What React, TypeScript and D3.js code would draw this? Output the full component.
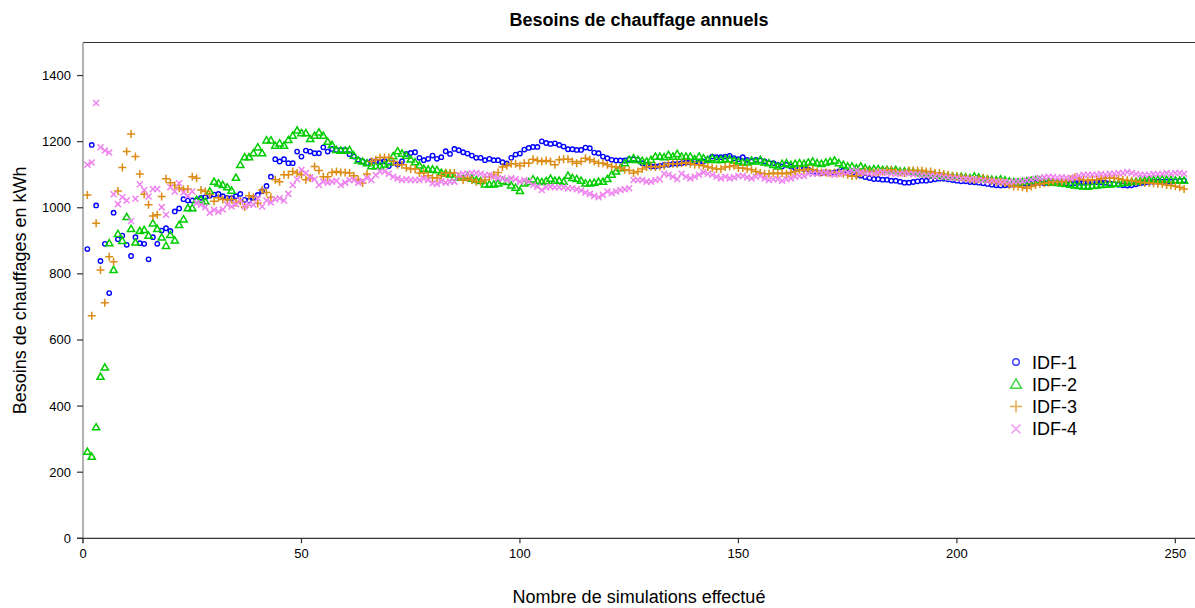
import * as d3 from "d3";

const W = 1195;
const H = 608;
const margin = { top: 42.5, right: 0, bottom: 69.7, left: 83 };

const seriesNames = ["IDF-1", "IDF-2", "IDF-3", "IDF-4"];
const colors = ["#0000ff", "#00cd00", "#dc8c14", "#ee82ee"];
const yTicks = [0, 200, 400, 600, 800, 1000, 1200, 1400];
const xTicks = [0, 50, 100, 150, 200, 250];

// besoins annuels (kWh) pour chaque simulation
const idf1 = [
  875, 1190, 1007, 839, 891, 742, 985, 905, 916, 888, 854, 911, 893, 891, 844, 911, 891, 931, 938, 930, 989, 998, 1026, 1022, 1022,
  1022, 1030, 1032, 1036, 1040, 1042, 1035, 1030, 1029, 1035, 1042, 1024, 1022, 1030, 1039, 1050, 1066, 1094, 1147, 1140,
  1147, 1135, 1135, 1170, 1155, 1173, 1170, 1165, 1165, 1183, 1170, 1178, 1175, 1175, 1175, 1162, 1155, 1145, 1140, 1135,
  1141, 1141, 1138, 1141, 1126, 1136, 1131, 1141, 1163, 1166, 1168, 1151, 1144, 1148, 1158, 1148, 1153, 1171, 1163, 1178,
  1174, 1168, 1164, 1158, 1151, 1151, 1144, 1148, 1144, 1144, 1138, 1134, 1151, 1161, 1164, 1176, 1181, 1184, 1184, 1201, 1196, 1193,
  1195, 1190, 1185, 1177, 1177, 1175, 1175, 1182, 1180, 1167, 1165, 1155, 1150, 1145, 1143, 1143, 1143, 1147, 1147,
  1145, 1135, 1130, 1125, 1125, 1127, 1130, 1130, 1133, 1133, 1135, 1137, 1137, 1140, 1137, 1140, 1147, 1155, 1153, 1153, 1155,
  1157, 1150, 1147, 1153, 1145, 1140, 1145, 1143, 1140, 1135, 1135, 1130, 1125, 1130, 1125, 1120, 1120, 1117, 1115,
  1110, 1107, 1105, 1107, 1105, 1107, 1110, 1113, 1107, 1103, 1100, 1097, 1093, 1090, 1087, 1087, 1085, 1085, 1082, 1082, 1079, 1076,
  1076, 1078, 1080, 1082, 1082, 1084, 1086, 1088, 1088, 1086, 1084, 1082, 1080, 1080, 1078, 1077, 1076, 1074, 1072, 1070,
  1068, 1067, 1068, 1069, 1070, 1072, 1073, 1072, 1074, 1075, 1076, 1074, 1075, 1076, 1077,
  1075, 1074, 1074, 1075, 1076, 1076, 1077, 1078, 1078, 1077, 1076, 1074, 1072, 1070, 1068, 1067, 1068, 1071, 1074, 1076,
  1078, 1079, 1079, 1078, 1079, 1079, 1080, 1081, 1083,
];

const idf2 = [
  262, 247, 336, 489, 517, 893, 812, 921, 900, 972, 936, 895, 930, 933, 916, 953, 936, 910, 885, 918, 901, 948, 965, 999, 999,
  1024, 1024, 1019, 1050, 1079, 1074, 1069, 1062, 1052, 1091, 1130, 1153, 1153, 1165, 1183, 1165, 1204, 1204, 1188, 1195,
  1188, 1205, 1218, 1234, 1226, 1226, 1208, 1218, 1228, 1218, 1200, 1190, 1175, 1173, 1173, 1175, 1158, 1143, 1140, 1135,
  1126, 1126, 1126, 1131, 1138, 1156, 1171, 1164, 1158, 1146, 1138, 1128, 1118, 1116, 1116, 1114, 1106, 1104, 1101, 1091,
  1091, 1091, 1096, 1088, 1084, 1081, 1071, 1071, 1071, 1074, 1081, 1078, 1068, 1061, 1051, 1074, 1078, 1086, 1081, 1078, 1081, 1088,
  1082, 1082, 1079, 1097, 1090, 1087, 1082, 1074, 1074, 1076, 1079, 1079, 1087, 1100, 1110, 1120, 1135, 1145, 1150,
  1145, 1142, 1140, 1145, 1155, 1155, 1153, 1160, 1155, 1163, 1155, 1155, 1155, 1147, 1155, 1150, 1145, 1150, 1145, 1145, 1147,
  1147, 1143, 1140, 1137, 1137, 1143, 1140, 1145, 1137, 1135, 1130, 1125, 1133, 1135, 1130, 1133, 1135, 1133, 1137,
  1140, 1135, 1133, 1137, 1140, 1143, 1135, 1130, 1125, 1125, 1120, 1125, 1120, 1115, 1117, 1117, 1115, 1115, 1113, 1115, 1110, 1110,
  1110, 1108, 1106, 1104, 1102, 1100, 1099, 1097, 1096, 1095, 1094, 1093, 1094, 1092, 1090, 1095, 1092, 1088, 1086, 1085,
  1084, 1086, 1083, 1080, 1078, 1077, 1078, 1080, 1082, 1084, 1083, 1080, 1078, 1076, 1075,
  1074, 1072, 1070, 1068, 1066, 1065, 1064, 1066, 1068, 1069, 1070, 1071, 1072, 1073, 1075, 1076, 1078, 1079, 1081, 1082,
  1084, 1084, 1085, 1086, 1085, 1084, 1083, 1083, 1082,
];

const idf3 = [
  1039, 673, 953, 812, 713, 852, 837, 1051, 1122, 1170, 1223, 1155, 1102, 1041, 1009, 975, 979, 1034, 1088, 1076, 1067, 1060, 1055, 1057, 1094,
  1089, 1054, 1049, 1040, 1020, 1030, 1025, 1025, 1025, 1015, 1020, 1002, 1036, 1032, 1014, 1054, 1046, 1032, 1085, 1079,
  1100, 1100, 1110, 1105, 1100, 1085, 1090, 1125, 1113, 1094, 1094, 1107, 1110, 1107, 1107, 1105, 1097, 1085, 1075, 1102,
  1140, 1145, 1152, 1152, 1152, 1140, 1130, 1130, 1120, 1117, 1117, 1105, 1105, 1097, 1090, 1090, 1097, 1105, 1105, 1105,
  1094, 1084, 1090, 1084, 1079, 1079, 1084, 1094, 1100, 1107, 1123, 1127, 1133, 1133, 1127, 1135, 1135, 1147, 1143, 1140, 1143, 1140,
  1130, 1145, 1147, 1147, 1140, 1135, 1140, 1150, 1145, 1140, 1135, 1135, 1130, 1125, 1123, 1120, 1115, 1113, 1105,
  1110, 1117, 1123, 1125, 1123, 1125, 1127, 1133, 1133, 1133, 1135, 1137, 1133, 1130, 1130, 1127, 1123, 1120, 1117, 1117, 1123,
  1125, 1127, 1120, 1120, 1117, 1115, 1110, 1105, 1103, 1103, 1105, 1103, 1105, 1103, 1107, 1110, 1115, 1113, 1117,
  1115, 1110, 1107, 1107, 1105, 1107, 1105, 1103, 1100, 1095, 1097, 1105, 1110, 1110, 1107, 1107, 1110, 1113, 1115, 1110, 1107, 1105,
  1113, 1113, 1113, 1113, 1110, 1110, 1105, 1105, 1102, 1100, 1097, 1095, 1093, 1090, 1087, 1084, 1087, 1090, 1087, 1082,
  1079, 1079, 1076, 1069, 1064, 1064, 1062, 1059, 1064, 1069, 1072, 1074, 1076, 1079, 1079,
  1079, 1082, 1087, 1092, 1088, 1084, 1082, 1085, 1085, 1088, 1090, 1089, 1090, 1088, 1085, 1083, 1082, 1080, 1077, 1076,
  1075, 1074, 1073, 1072, 1069, 1067, 1065, 1062, 1057,
];

const idf4 = [
  1130, 1137, 1317, 1183, 1173, 1167, 1041, 1011, 1032, 1022, 960, 1027, 1071, 1054, 1034, 1057, 1057, 1002, 979, 1062, 1049, 1074, 1046, 1036, 1049,
  1014, 1009, 1002, 985, 993, 988, 995, 1010, 1004, 1011, 1022, 1004, 1011, 1009, 1029, 1004, 1022, 1016, 1026, 1029,
  1022, 1042, 1069, 1086, 1115, 1105, 1092, 1086, 1069, 1079, 1076, 1079, 1082, 1069, 1076, 1084, 1084, 1076, 1082, 1090,
  1084, 1099, 1110, 1110, 1103, 1094, 1089, 1084, 1086, 1084, 1084, 1084, 1089, 1084, 1074, 1072, 1079, 1076, 1079, 1079,
  1099, 1103, 1103, 1105, 1105, 1103, 1099, 1099, 1094, 1089, 1089, 1084, 1089, 1086, 1079, 1084, 1079, 1069, 1064, 1054, 1062, 1064,
  1062, 1062, 1062, 1059, 1059, 1056, 1052, 1046, 1042, 1036, 1032, 1039, 1049, 1044, 1049, 1054, 1056, 1059, 1084,
  1084, 1084, 1079, 1079, 1084, 1086, 1103, 1100, 1094, 1086, 1103, 1094, 1089, 1094, 1100, 1107, 1103, 1100, 1094, 1089, 1094,
  1089, 1092, 1096, 1096, 1092, 1089, 1094, 1096, 1089, 1084, 1086, 1086, 1082, 1086, 1089, 1094, 1096, 1096, 1103,
  1103, 1103, 1105, 1107, 1103, 1100, 1103, 1105, 1107, 1113, 1113, 1107, 1105, 1103, 1103, 1107, 1107, 1105, 1103, 1103, 1103, 1105,
  1103, 1101, 1102, 1099, 1097, 1098, 1095, 1096, 1093, 1092, 1090, 1091, 1088, 1089, 1086, 1087, 1084, 1083, 1081, 1082,
  1080, 1078, 1079, 1077, 1079, 1081, 1080, 1083, 1085, 1088, 1090, 1092, 1094, 1093, 1091,
  1092, 1091, 1089, 1092, 1097, 1100, 1100, 1100, 1100, 1102, 1100, 1103, 1103, 1105, 1105, 1108, 1105, 1102, 1100, 1100,
  1100, 1102, 1102, 1102, 1105, 1102, 1105, 1105, 1103,
];

const allSeries = [idf1, idf2, idf3, idf4];
const font = "'Liberation Sans', Arial, sans-serif";

function Marker({ kind, color, x, y, s = 1 }) {
  const t = `translate(${x},${y}) scale(${s})`;
  if (kind === 0)
    return <circle cx={x} cy={y} r={2.2 * s} fill="none" stroke={color} strokeWidth={1.4} />;
  if (kind === 1)
    return <path transform={t} d="M0,-3.6L3.6,2.6L-3.6,2.6Z" fill="none" stroke={color} strokeWidth={1.5 / s} />;
  if (kind === 2)
    return <path transform={t} d="M-4,0H4M0,-4V4" fill="none" stroke={color} strokeWidth={1.5 / s} />;
  return <path transform={t} d="M-3,-3L3,3M-3,3L3,-3" fill="none" stroke={color} strokeWidth={1.5 / s} />;
}

export default function App() {
  const x = d3.scaleLinear().domain([0, 254.5]).range([margin.left, W - margin.right]);
  const y = d3.scaleLinear().domain([0, 1500]).range([H - margin.bottom, margin.top]);
  const y0 = y(0);

  return (
    <svg width={W} height={H} style={{ position: "absolute", left: 0, top: 0, background: "#fff" }} fontFamily={font}>
      <rect width={W} height={H} fill="#fff" />
      <text x={(margin.left + W) / 2} y={26} textAnchor="middle" fontSize={18} fontWeight="bold">
        Besoins de chauffage annuels
      </text>

      {/* cadre */}
      <line x1={margin.left} x2={W} y1={y(1500)} y2={y(1500)} stroke="#333" strokeWidth={1.2} />
      <line x1={margin.left} x2={margin.left} y1={y(1500)} y2={y0 + 5} stroke="#999" strokeWidth={1.5} />
      <line x1={margin.left - 6} x2={W} y1={y0} y2={y0} stroke="#333" strokeWidth={1.2} />

      {yTicks.map((t) => (
        <g key={"y" + t}>
          <line x1={margin.left - 6} x2={margin.left} y1={y(t)} y2={y(t)} stroke="#333" strokeWidth={1.2} />
          <text x={margin.left - 12} y={y(t) + 4.5} textAnchor="end" fontSize={13}>{t}</text>
        </g>
      ))}
      {xTicks.map((t) => (
        <g key={"x" + t}>
          <line x1={x(t)} x2={x(t)} y1={y0} y2={y0 + 5} stroke="#333" strokeWidth={1.2} />
          <text x={x(t)} y={y0 + 20} textAnchor="middle" fontSize={13}>{t}</text>
        </g>
      ))}

      <text x={(margin.left + W) / 2} y={603} textAnchor="middle" fontSize={18}>
        Nombre de simulations effectué
      </text>
      <text transform={`translate(26,${(margin.top + y0) / 2}) rotate(-90)`} textAnchor="middle" fontSize={18}>
        Besoins de chauffages en kWh
      </text>

      {allSeries.map((vals, k) => (
        <g key={k}>
          {vals.map((v, i) => (
            <Marker key={i} kind={k} color={colors[k]} x={x(i + 1)} y={y(v)} />
          ))}
        </g>
      ))}

      {seriesNames.map((name, k) => (
        <g key={name} transform={`translate(1016,${362 + k * 22.3})`}>
          <g opacity={0.75}>
            <Marker kind={k} color={colors[k]} x={0} y={0} s={1.5} />
          </g>
          <text x={16} y={6.5} fontSize={18}>{name}</text>
        </g>
      ))}
    </svg>
  );
}
